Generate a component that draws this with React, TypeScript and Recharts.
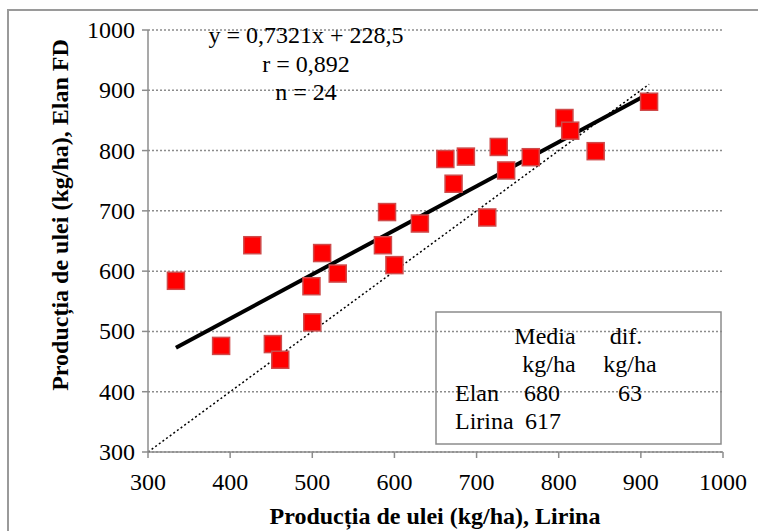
import { CartesianGrid, ComposedChart, ReferenceLine, Scatter, XAxis, YAxis } from "recharts";

// oil yield (kg/ha) for the 24 pairs: Lirina (x) vs Elan FD (y)
const lirina = [334, 427, 389, 452, 461, 500, 499, 512, 531, 586, 600, 591, 631, 662, 672, 687, 727, 736, 766, 713, 807, 814, 845, 910];
const elanFD = [584, 643, 476, 479, 453, 515, 575, 630, 596, 643, 610, 698, 679, 786, 745, 790, 806, 767, 789, 689, 854, 833, 799, 881];

const axisTicks = [300, 400, 500, 600, 700, 800, 900, 1000];

// regression as printed on the chart
const slope = 0.7321;
const intercept = 228.5;
const identityEnd = 910;

const FONT = '"Liberation Serif", "Times New Roman", serif';
const GREY = "#8c8c8c";

const points = lirina.map((x, i) => ({ x, y: elanFD[i] }));
const xMin = Math.min(...lirina);
const xMax = Math.max(...lirina);

const Square = (props: any) => {
  const { cx, cy } = props;
  if (cx == null || cy == null) return <g />;
  return <rect x={cx - 8.5} y={cy - 8.5} width={17} height={17} fill="#ff0000" stroke="#cf4a4a" strokeWidth={1.5} />;
};

const YTick = ({ x, y, payload }: any) => (
  <text x={x} y={y + 8} textAnchor="end" fontSize={24} fontFamily={FONT} fill="#000">
    {payload.value}
  </text>
);

const XTick = ({ x, y, payload }: any) => (
  <text x={x} y={y + 32} textAnchor="middle" fontSize={24} fontFamily={FONT} fill="#000">
    {payload.value}
  </text>
);

export default function App() {
  return (
    <div style={{ position: "absolute", left: 0, top: 0, width: 758, height: 531, overflow: "hidden", background: "#fff" }}>
      <ComposedChart width={758} height={531} data={points} margin={{ top: 30, right: 35, bottom: 39, left: 88 }}>
        <CartesianGrid vertical={false} stroke={GREY} strokeWidth={1.5} strokeDasharray="2 2" />
        <XAxis
          type="number"
          dataKey="x"
          domain={[300, 1000]}
          ticks={axisTicks}
          height={40}
          stroke={GREY}
          strokeWidth={1.5}
          tickSize={6}
          tickMargin={0}
          tick={<XTick />}
        />
        <YAxis
          type="number"
          dataKey="y"
          domain={[300, 1000]}
          ticks={axisTicks}
          width={60}
          stroke={GREY}
          strokeWidth={1.5}
          tickSize={6}
          tickMargin={7}
          tick={<YTick />}
        />
        <Scatter data={points} dataKey="y" shape={<Square />} isAnimationActive={false} />
        <ReferenceLine
          segment={[
            { x: 300, y: 300 },
            { x: identityEnd, y: identityEnd },
          ]}
          stroke="#000"
          strokeWidth={1.5}
          strokeDasharray="2 2.5"
        />
        <ReferenceLine
          segment={[
            { x: xMin, y: slope * xMin + intercept },
            { x: xMax, y: slope * xMax + intercept },
          ]}
          stroke="#000"
          strokeWidth={4}
        />
      </ComposedChart>

      <svg width={758} height={531} style={{ position: "absolute", left: 0, top: 0, pointerEvents: "none" }} fontFamily={FONT} fontSize={24}>
        <path d="M8,531 V10 H758" fill="none" stroke="#9a9a9a" strokeWidth={2} />

        <text x={306} y={43} textAnchor="middle">y = 0,7321x + 228,5</text>
        <text x={306} y={72} textAnchor="middle">r = 0,892</text>
        <text x={306} y={100} textAnchor="middle">n = 24</text>

        <rect x={436} y={312} width={285} height={132} fill="none" stroke={GREY} strokeWidth={1.5} />
        <text x={545} y={344} textAnchor="middle">Media</text>
        <text x={626} y={344} textAnchor="middle">dif.</text>
        <text x={549} y={372} textAnchor="middle">kg/ha</text>
        <text x={630} y={372} textAnchor="middle">kg/ha</text>
        <text x={455} y={401}>Elan</text>
        <text x={542} y={401} textAnchor="middle">680</text>
        <text x={630} y={401} textAnchor="middle">63</text>
        <text x={455} y={429}>Lirina</text>
        <text x={543} y={429} textAnchor="middle">617</text>

        <text x={435} y={524} textAnchor="middle" fontWeight="bold">Producția de ulei (kg/ha), Lirina</text>
        <text x={68} y={215} textAnchor="middle" fontWeight="bold" transform="rotate(-90 68 215)">
          Producția de ulei (kg/ha), Elan FD
        </text>
      </svg>
    </div>
  );
}
